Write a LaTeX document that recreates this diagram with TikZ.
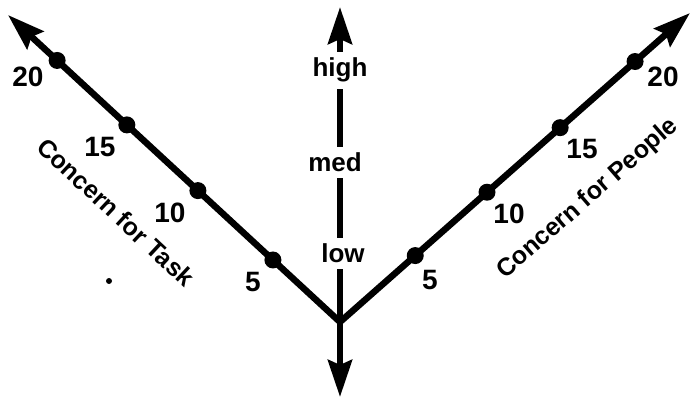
\documentclass[tikz,border=0pt]{standalone}
\usepackage{fontspec}
\setmainfont{Liberation Sans}
\usetikzlibrary{arrows.meta,calc}
\begin{document}
\begin{tikzpicture}[x=1pt,y=-1pt,
  axis/.style={line width=6.5pt, -{Stealth[length=37pt,width=24pt,inset=5pt]}},
  dot/.style={circle, fill=black, inner sep=0pt, minimum size=17pt},
  num/.style={font=\fontsize{28}{28}\selectfont\bfseries, inner sep=0pt},
  lvl/.style={font=\fontsize{26}{26}\selectfont\bfseries, fill=white, inner xsep=2pt, inner ysep=6pt, anchor=base},
  ttl/.style={font=\fontsize{25}{25}\selectfont\bfseries, inner sep=0pt},
  speck/.style={circle, fill=black, inner sep=0pt, minimum size=6pt}]
\useasboundingbox (0,0) rectangle (691,398);
\coordinate (v) at (340,322);
\coordinate (tl) at (8,15);
\coordinate (tr) at (690,13);
\coordinate (tt) at (340,7);
\coordinate (tb) at (340,397);
% axes
\draw[axis] (v) -- (tl);
\draw[axis] (v) -- (tr);
\draw[axis] (v) -- (tt);
\draw[axis] (v) -- (tb);
% dots on the task axis
\node[dot] (l5)  at ($(v)!0.202!(tl)$) {};
\node[dot] (l10) at ($(v)!0.428!(tl)$) {};
\node[dot] (l15) at ($(v)!0.642!(tl)$) {};
\node[dot] (l20) at ($(v)!0.852!(tl)$) {};
% dots on the people axis
\node[dot] (r5)  at ($(v)!0.215!(tr)$) {};
\node[dot] (r10) at ($(v)!0.42!(tr)$) {};
\node[dot] (r15) at ($(v)!0.629!(tr)$) {};
\node[dot] (r20) at ($(v)!0.843!(tr)$) {};
% numbers
\node[num] (nl20) at (28,77) {20};
\node[num] (nl15) at (100,147) {15};
\node[num] (nl10) at (170,213) {10};
\node[num] (nl5)  at (253,282) {5};
\node[num] (nr5)  at (430,280) {5};
\node[num] (nr10) at (509,214) {10};
\node[num] (nr15) at (582,149) {15};
\node[num] (nr20) at (663,77) {20};
% levels
\node[lvl] (high) at (340,77) {high};
\node[lvl] (med)  at (335,172) {med};
\node[lvl] (low)  at (343,263) {low};
% titles
\node[ttl, rotate=-43] (task) at (116,212) {Concern for Task};
\node[ttl, rotate=41] (people) at (588,199) {Concern for People};
\node[speck] (sp) at (109,281) {};
\end{tikzpicture}
\end{document}
